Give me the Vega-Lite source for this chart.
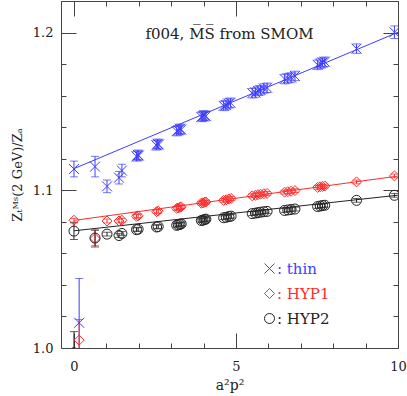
{
  "$schema": "https://vega.github.io/schema/vega-lite/v6.json",
  "width": 337,
  "height": 347,
  "autosize": {"type": "none"},
  "padding": {"left": 61, "top": 1, "right": 9, "bottom": 48},
  "background": "white",
  "config": {"view": {"stroke": "#444", "strokeWidth": 1}, "font": "DejaVu Serif"},
  "title": {"text": "f004, M̅S̅ from SMOM", "orient": "top", "anchor": "middle", "offset": -47, "font": "DejaVu Serif", "fontSize": 15, "fontWeight": "normal", "color": "#222"},
  "datasets": {
    "fit": [
      {"s": "thin", "x": 0, "y": 1.1137}, {"s": "thin", "x": 10, "y": 1.2002},
      {"s": "HYP1", "x": 0, "y": 1.0809}, {"s": "HYP1", "x": 10, "y": 1.109},
      {"s": "HYP2", "x": 0, "y": 1.0743}, {"s": "HYP2", "x": 10, "y": 1.0969}
    ],
    "pts": [
      {"s": "thin", "x": 0, "y": 1.1135, "lo": 1.1085, "hi": 1.1185},
      {"s": "thin", "x": 0.65, "y": 1.115, "lo": 1.1085, "hi": 1.1215},
      {"s": "thin", "x": 1.02, "y": 1.1025, "lo": 1.0985, "hi": 1.1065},
      {"s": "thin", "x": 1.39, "y": 1.108, "lo": 1.104, "hi": 1.112},
      {"s": "thin", "x": 1.48, "y": 1.1125, "lo": 1.1085, "hi": 1.1165},
      {"s": "thin", "x": 1.93, "y": 1.1215, "lo": 1.1185, "hi": 1.1245},
      {"s": "thin", "x": 1.97, "y": 1.1225, "lo": 1.1195, "hi": 1.1255},
      {"s": "thin", "x": 2.0, "y": 1.122, "lo": 1.119, "hi": 1.125},
      {"s": "thin", "x": 2.54, "y": 1.1285, "lo": 1.1255, "hi": 1.1315},
      {"s": "thin", "x": 2.58, "y": 1.1295, "lo": 1.1265, "hi": 1.1325},
      {"s": "thin", "x": 2.62, "y": 1.129, "lo": 1.126, "hi": 1.132},
      {"s": "thin", "x": 3.17, "y": 1.1375, "lo": 1.1345, "hi": 1.1405},
      {"s": "thin", "x": 3.22, "y": 1.138, "lo": 1.135, "hi": 1.141},
      {"s": "thin", "x": 3.27, "y": 1.139, "lo": 1.136, "hi": 1.142},
      {"s": "thin", "x": 3.31, "y": 1.1385, "lo": 1.1355, "hi": 1.1415},
      {"s": "thin", "x": 3.93, "y": 1.1465, "lo": 1.1435, "hi": 1.1495},
      {"s": "thin", "x": 3.98, "y": 1.147, "lo": 1.144, "hi": 1.15},
      {"s": "thin", "x": 4.02, "y": 1.1475, "lo": 1.1445, "hi": 1.1505},
      {"s": "thin", "x": 4.07, "y": 1.147, "lo": 1.144, "hi": 1.15},
      {"s": "thin", "x": 4.62, "y": 1.1535, "lo": 1.1505, "hi": 1.1565},
      {"s": "thin", "x": 4.69, "y": 1.154, "lo": 1.151, "hi": 1.157},
      {"s": "thin", "x": 4.76, "y": 1.155, "lo": 1.152, "hi": 1.158},
      {"s": "thin", "x": 4.83, "y": 1.1555, "lo": 1.1525, "hi": 1.1585},
      {"s": "thin", "x": 5.5, "y": 1.1615, "lo": 1.1585, "hi": 1.1645},
      {"s": "thin", "x": 5.6, "y": 1.162, "lo": 1.159, "hi": 1.165},
      {"s": "thin", "x": 5.68, "y": 1.163, "lo": 1.16, "hi": 1.166},
      {"s": "thin", "x": 5.76, "y": 1.1635, "lo": 1.1605, "hi": 1.1665},
      {"s": "thin", "x": 5.86, "y": 1.1645, "lo": 1.1615, "hi": 1.1675},
      {"s": "thin", "x": 5.96, "y": 1.165, "lo": 1.162, "hi": 1.168},
      {"s": "thin", "x": 6.5, "y": 1.1705, "lo": 1.1675, "hi": 1.1735},
      {"s": "thin", "x": 6.6, "y": 1.171, "lo": 1.168, "hi": 1.174},
      {"s": "thin", "x": 6.7, "y": 1.1715, "lo": 1.1685, "hi": 1.1745},
      {"s": "thin", "x": 6.82, "y": 1.1725, "lo": 1.1695, "hi": 1.1755},
      {"s": "thin", "x": 7.52, "y": 1.1795, "lo": 1.1765, "hi": 1.1825},
      {"s": "thin", "x": 7.6, "y": 1.1803, "lo": 1.1773, "hi": 1.1833},
      {"s": "thin", "x": 7.67, "y": 1.181, "lo": 1.178, "hi": 1.184},
      {"s": "thin", "x": 7.74, "y": 1.1815, "lo": 1.1785, "hi": 1.1845},
      {"s": "thin", "x": 8.72, "y": 1.1898, "lo": 1.1868, "hi": 1.1928},
      {"s": "thin", "x": 9.89, "y": 1.2002, "lo": 1.1962, "hi": 1.2042},
      {"s": "thin", "x": 0.16, "y": 1.016, "lo": 0.988, "hi": 1.044},
      {"s": "HYP1", "x": 0, "y": 1.081, "lo": 1.0798, "hi": 1.0822},
      {"s": "HYP1", "x": 0.65, "y": 1.0694, "lo": 1.0639, "hi": 1.0749},
      {"s": "HYP1", "x": 1.02, "y": 1.0805, "lo": 1.0793, "hi": 1.0817},
      {"s": "HYP1", "x": 1.39, "y": 1.0805, "lo": 1.0793, "hi": 1.0817},
      {"s": "HYP1", "x": 1.48, "y": 1.081, "lo": 1.0798, "hi": 1.0822},
      {"s": "HYP1", "x": 1.93, "y": 1.0835, "lo": 1.0823, "hi": 1.0847},
      {"s": "HYP1", "x": 1.98, "y": 1.0838, "lo": 1.0826, "hi": 1.085},
      {"s": "HYP1", "x": 2.55, "y": 1.0864, "lo": 1.0852, "hi": 1.0876},
      {"s": "HYP1", "x": 2.6, "y": 1.0868, "lo": 1.0856, "hi": 1.088},
      {"s": "HYP1", "x": 3.17, "y": 1.0885, "lo": 1.0873, "hi": 1.0897},
      {"s": "HYP1", "x": 3.22, "y": 1.0888, "lo": 1.0876, "hi": 1.09},
      {"s": "HYP1", "x": 3.27, "y": 1.0892, "lo": 1.088, "hi": 1.0904},
      {"s": "HYP1", "x": 3.31, "y": 1.0895, "lo": 1.0883, "hi": 1.0907},
      {"s": "HYP1", "x": 3.93, "y": 1.0918, "lo": 1.0906, "hi": 1.093},
      {"s": "HYP1", "x": 3.98, "y": 1.092, "lo": 1.0908, "hi": 1.0932},
      {"s": "HYP1", "x": 4.03, "y": 1.0924, "lo": 1.0912, "hi": 1.0936},
      {"s": "HYP1", "x": 4.07, "y": 1.0926, "lo": 1.0914, "hi": 1.0938},
      {"s": "HYP1", "x": 4.62, "y": 1.0936, "lo": 1.0924, "hi": 1.0948},
      {"s": "HYP1", "x": 4.7, "y": 1.094, "lo": 1.0928, "hi": 1.0952},
      {"s": "HYP1", "x": 4.78, "y": 1.0945, "lo": 1.0933, "hi": 1.0957},
      {"s": "HYP1", "x": 4.85, "y": 1.0948, "lo": 1.0936, "hi": 1.096},
      {"s": "HYP1", "x": 5.5, "y": 1.0965, "lo": 1.0953, "hi": 1.0977},
      {"s": "HYP1", "x": 5.6, "y": 1.0968, "lo": 1.0956, "hi": 1.098},
      {"s": "HYP1", "x": 5.68, "y": 1.0972, "lo": 1.096, "hi": 1.0984},
      {"s": "HYP1", "x": 5.76, "y": 1.0975, "lo": 1.0963, "hi": 1.0987},
      {"s": "HYP1", "x": 5.86, "y": 1.0978, "lo": 1.0966, "hi": 1.099},
      {"s": "HYP1", "x": 5.96, "y": 1.098, "lo": 1.0968, "hi": 1.0992},
      {"s": "HYP1", "x": 6.5, "y": 1.0988, "lo": 1.0976, "hi": 1.1},
      {"s": "HYP1", "x": 6.6, "y": 1.0991, "lo": 1.0979, "hi": 1.1003},
      {"s": "HYP1", "x": 6.7, "y": 1.0994, "lo": 1.0982, "hi": 1.1006},
      {"s": "HYP1", "x": 6.82, "y": 1.0998, "lo": 1.0986, "hi": 1.101},
      {"s": "HYP1", "x": 7.52, "y": 1.1018, "lo": 1.1006, "hi": 1.103},
      {"s": "HYP1", "x": 7.6, "y": 1.1022, "lo": 1.101, "hi": 1.1034},
      {"s": "HYP1", "x": 7.67, "y": 1.1024, "lo": 1.1012, "hi": 1.1036},
      {"s": "HYP1", "x": 7.74, "y": 1.1027, "lo": 1.1015, "hi": 1.1039},
      {"s": "HYP1", "x": 8.72, "y": 1.1053, "lo": 1.1041, "hi": 1.1065},
      {"s": "HYP1", "x": 9.89, "y": 1.1091, "lo": 1.1079, "hi": 1.1103},
      {"s": "HYP1", "x": 0.16, "y": 1.005, "lo": 0.992, "hi": 1.018},
      {"s": "HYP2", "x": 0, "y": 1.0741, "lo": 1.0688, "hi": 1.0794},
      {"s": "HYP2", "x": 0.65, "y": 1.0697, "lo": 1.0647, "hi": 1.0747},
      {"s": "HYP2", "x": 1.02, "y": 1.0722, "lo": 1.071, "hi": 1.0734},
      {"s": "HYP2", "x": 1.39, "y": 1.0713, "lo": 1.0701, "hi": 1.0725},
      {"s": "HYP2", "x": 1.48, "y": 1.0726, "lo": 1.0714, "hi": 1.0738},
      {"s": "HYP2", "x": 1.93, "y": 1.075, "lo": 1.0738, "hi": 1.0762},
      {"s": "HYP2", "x": 1.98, "y": 1.0753, "lo": 1.0741, "hi": 1.0765},
      {"s": "HYP2", "x": 2.55, "y": 1.0767, "lo": 1.0755, "hi": 1.0779},
      {"s": "HYP2", "x": 2.6, "y": 1.077, "lo": 1.0758, "hi": 1.0782},
      {"s": "HYP2", "x": 3.17, "y": 1.0778, "lo": 1.0766, "hi": 1.079},
      {"s": "HYP2", "x": 3.22, "y": 1.0781, "lo": 1.0769, "hi": 1.0793},
      {"s": "HYP2", "x": 3.27, "y": 1.0784, "lo": 1.0772, "hi": 1.0796},
      {"s": "HYP2", "x": 3.31, "y": 1.0787, "lo": 1.0775, "hi": 1.0799},
      {"s": "HYP2", "x": 3.93, "y": 1.0808, "lo": 1.0796, "hi": 1.082},
      {"s": "HYP2", "x": 3.98, "y": 1.0811, "lo": 1.0799, "hi": 1.0823},
      {"s": "HYP2", "x": 4.03, "y": 1.0814, "lo": 1.0802, "hi": 1.0826},
      {"s": "HYP2", "x": 4.07, "y": 1.0817, "lo": 1.0805, "hi": 1.0829},
      {"s": "HYP2", "x": 4.62, "y": 1.0826, "lo": 1.0814, "hi": 1.0838},
      {"s": "HYP2", "x": 4.7, "y": 1.0829, "lo": 1.0817, "hi": 1.0841},
      {"s": "HYP2", "x": 4.78, "y": 1.0833, "lo": 1.0821, "hi": 1.0845},
      {"s": "HYP2", "x": 4.85, "y": 1.0836, "lo": 1.0824, "hi": 1.0848},
      {"s": "HYP2", "x": 5.5, "y": 1.0852, "lo": 1.084, "hi": 1.0864},
      {"s": "HYP2", "x": 5.6, "y": 1.0855, "lo": 1.0843, "hi": 1.0867},
      {"s": "HYP2", "x": 5.68, "y": 1.0858, "lo": 1.0846, "hi": 1.087},
      {"s": "HYP2", "x": 5.76, "y": 1.0861, "lo": 1.0849, "hi": 1.0873},
      {"s": "HYP2", "x": 5.86, "y": 1.0864, "lo": 1.0852, "hi": 1.0876},
      {"s": "HYP2", "x": 5.96, "y": 1.0866, "lo": 1.0854, "hi": 1.0878},
      {"s": "HYP2", "x": 6.5, "y": 1.0872, "lo": 1.086, "hi": 1.0884},
      {"s": "HYP2", "x": 6.6, "y": 1.0875, "lo": 1.0863, "hi": 1.0887},
      {"s": "HYP2", "x": 6.7, "y": 1.0878, "lo": 1.0866, "hi": 1.089},
      {"s": "HYP2", "x": 6.82, "y": 1.0881, "lo": 1.0869, "hi": 1.0893},
      {"s": "HYP2", "x": 7.52, "y": 1.0897, "lo": 1.0885, "hi": 1.0909},
      {"s": "HYP2", "x": 7.6, "y": 1.09, "lo": 1.0888, "hi": 1.0912},
      {"s": "HYP2", "x": 7.67, "y": 1.0903, "lo": 1.0891, "hi": 1.0915},
      {"s": "HYP2", "x": 7.74, "y": 1.0905, "lo": 1.0893, "hi": 1.0917},
      {"s": "HYP2", "x": 8.72, "y": 1.0936, "lo": 1.0924, "hi": 1.0948},
      {"s": "HYP2", "x": 9.89, "y": 1.0968, "lo": 1.0956, "hi": 1.098},
      {"s": "HYP2", "x": 0, "y": 0.997, "lo": 0.984, "hi": 1.0104}
    ]
  },
  "layer": [
    {
      "data": {"name": "fit"},
      "mark": {"type": "line", "strokeWidth": 1, "clip": true},
      "encoding": {
        "x": {"field": "x", "type": "quantitative", "scale": {"domain": [-0.4, 10], "nice": false, "zero": false},
          "axis": {"orient": "top", "values": [0,1,2,3,4,5,6,7,8,9,10], "labels": false, "title": null,
            "tickSize": {"condition": {"test": "datum.value % 5 === 0", "value": -15}, "value": -5},
            "domain": false, "grid": false, "tickColor": "#444"}},
        "y": {"field": "y", "type": "quantitative", "scale": {"domain": [1.0, 1.22], "nice": false, "zero": false},
          "axis": {"orient": "right", "values": [1.0,1.02,1.04,1.06,1.08,1.1,1.12,1.14,1.16,1.18,1.2,1.22], "labels": false, "title": null,
            "tickSize": {"condition": {"test": "abs(datum.value*10 - round(datum.value*10)) < 0.001", "value": -15}, "value": -5},
            "domain": false, "grid": false, "tickColor": "#444"}},
        "stroke": {"field": "s", "type": "nominal", "scale": {"domain": ["HYP2", "HYP1", "thin"], "range": ["#222222", "#ff2a2a", "#3c3cff"]}, "legend": null},
        "detail": {"field": "s"}
      }
    },
    {
      "data": {"name": "pts"},
      "mark": {"type": "rule", "strokeWidth": 1, "clip": true},
      "encoding": {
        "x": {"field": "x", "type": "quantitative", "axis": null},
        "y": {"field": "lo", "type": "quantitative", "axis": null},
        "y2": {"field": "hi"},
        "stroke": {"field": "s", "type": "nominal", "legend": null}
      }
    },
    {
      "data": {"name": "pts"},
      "mark": {"type": "tick", "orient": "horizontal", "size": 8, "thickness": 1, "clip": true},
      "encoding": {
        "x": {"field": "x", "type": "quantitative", "axis": null},
        "y": {"field": "lo", "type": "quantitative", "axis": null},
        "fill": {"field": "s", "type": "nominal", "scale": {"domain": ["HYP1", "thin", "HYP2"], "range": ["#ff2a2a", "#3c3cff", "#222222"]}, "legend": null}
      }
    },
    {
      "data": {"name": "pts"},
      "mark": {"type": "tick", "orient": "horizontal", "size": 8, "thickness": 1, "clip": true},
      "encoding": {
        "x": {"field": "x", "type": "quantitative", "axis": null},
        "y": {"field": "hi", "type": "quantitative", "axis": null},
        "fill": {"field": "s", "type": "nominal", "legend": null}
      }
    },
    {
      "data": {"name": "pts"},
      "mark": {"type": "point", "filled": false, "strokeWidth": 1, "size": 100, "opacity": 1, "clip": true},
      "encoding": {
        "x": {"field": "x", "type": "quantitative",
          "axis": {"orient": "bottom", "values": [0,1,2,3,4,5,6,7,8,9,10], "labelExpr": "datum.value % 5 === 0 ? datum.label : ''",
            "tickSize": {"condition": {"test": "datum.value % 5 === 0", "value": -15}, "value": -5},
            "domain": false, "grid": false, "tickColor": "#444", "labelFont": "DejaVu Serif", "labelFontSize": 13, "labelColor": "#222",
            "labelPadding": 27, "labelOverlap": false, "labelFlush": false,
            "title": "a²p²", "titleFont": "DejaVu Serif", "titleFontSize": 14, "titleFontWeight": "normal", "titleColor": "#222", "titlePadding": -5}},
        "y": {"field": "y", "type": "quantitative",
          "axis": {"orient": "left", "values": [1.0,1.02,1.04,1.06,1.08,1.1,1.12,1.14,1.16,1.18,1.2,1.22],
            "labelExpr": "abs(datum.value*10 - round(datum.value*10)) < 0.001 ? format(datum.value, '.1f') : ''",
            "tickSize": {"condition": {"test": "abs(datum.value*10 - round(datum.value*10)) < 0.001", "value": -15}, "value": -5},
            "domain": false, "grid": false, "tickColor": "#444", "labelFont": "DejaVu Serif", "labelFontSize": 13, "labelColor": "#222",
            "labelPadding": 23, "labelOverlap": false, "labelFlush": false,
            "title": "Zₜᴹˢ(2 GeV)/Zₐ", "titleFont": "DejaVu Serif", "titleFontSize": 13, "titleFontWeight": "normal", "titleColor": "#222", "titlePadding": 8}},
        "color": {"field": "s", "type": "nominal", "scale": {"domain": ["thin", "HYP1", "HYP2"], "range": ["#3c3cff", "#ff2a2a", "#222222"]},
          "legend": {"orient": "none", "legendX": 201, "legendY": 260, "title": null, "padding": 0,
            "labelExpr": "': ' + datum.label", "labelFont": "DejaVu Serif", "labelFontSize": 15, "labelOffset": 0,
            "symbolSize": 100, "symbolStrokeWidth": 1, "rowPadding": 9,
            "symbolType": {"expr": "datum.value === 'thin' ? 'M-1,-1L1,1M1,-1L-1,1' : datum.value === 'HYP1' ? 'diamond' : 'circle'"},
            "labelColor": {"expr": "datum.value === 'thin' ? '#3c3cff' : datum.value === 'HYP1' ? '#ff2a2a' : '#222222'"},
            "symbolStrokeColor": {"expr": "datum.value === 'thin' ? '#3c3cff' : datum.value === 'HYP1' ? '#ff2a2a' : '#222222'"}}},
        "shape": {"field": "s", "type": "nominal", "scale": {"domain": ["HYP1", "HYP2", "thin"], "range": ["diamond", "circle", "M-1,-1L1,1M1,-1L-1,1"]}, "legend": null}
      }
    }
  ],
  "resolve": {"axis": {"x": "independent", "y": "independent"}}
}
